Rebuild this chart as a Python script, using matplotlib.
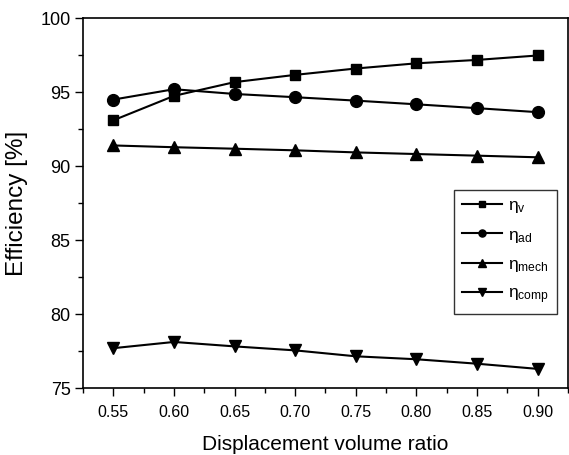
import numpy as np
import matplotlib.pyplot as plt
from matplotlib.ticker import MultipleLocator

plt.rcParams['font.family'] = ['Liberation Sans', 'DejaVu Sans']
plt.rcParams['mathtext.fontset'] = 'custom'
plt.rcParams['mathtext.rm'] = 'Liberation Sans'
plt.rcParams['mathtext.it'] = 'Liberation Sans'

ratio = [0.55, 0.60, 0.65, 0.70, 0.75, 0.80, 0.85, 0.90]
eta_v = [93.1, 94.75, 95.68, 96.17, 96.6, 96.95, 97.18, 97.48]
eta_ad = [94.5, 95.2, 94.88, 94.66, 94.43, 94.18, 93.92, 93.65]
eta_mech = [91.4, 91.28, 91.18, 91.07, 90.93, 90.82, 90.71, 90.6]
eta_comp = [77.7, 78.12, 77.82, 77.55, 77.15, 76.95, 76.65, 76.3]

fig = plt.figure(figsize=(5.69, 4.55), dpi=100)
ax = fig.add_axes([0.146, 0.147, 0.852, 0.813])

ms = 7.5
ax.plot(ratio, eta_v, 'k-s', ms=ms, lw=1.5, label='η$_{\\mathregular{v}}$')
ax.plot(ratio, eta_ad, 'k-o', ms=ms + 1, lw=1.5, label='η$_{\\mathregular{ad}}$')
ax.plot(ratio, eta_mech, 'k-^', ms=ms + 1, lw=1.5, label='η$_{\\mathregular{mech}}$')
ax.plot(ratio, eta_comp, 'k-v', ms=ms + 1, lw=1.5, label='η$_{\\mathregular{comp}}$')

ax.set_xlim(0.525, 0.925)
ax.set_ylim(75, 100)
ax.set_xticks(ratio)
ax.set_xticklabels(['%.2f' % r for r in ratio])
ax.xaxis.set_minor_locator(MultipleLocator(0.025))
ax.yaxis.set_major_locator(MultipleLocator(5))
ax.yaxis.set_minor_locator(MultipleLocator(2.5))
ax.tick_params(which='major', length=6, width=1, direction='out')
ax.tick_params(which='minor', length=3.5, width=1, direction='out')
ax.tick_params(axis='x', which='major', labelsize=11.5, pad=6)
ax.tick_params(axis='y', which='major', labelsize=13, pad=3)
for s in ax.spines.values():
    s.set_linewidth(1.2)

ax.set_xlabel('Displacement volume ratio', fontsize=15, labelpad=11)
ax.set_ylabel('Efficiency [%]', fontsize=17.5, labelpad=9)

leg = ax.legend(loc='center right', bbox_to_anchor=(0.977, 0.368), borderaxespad=0,
                fontsize=12.5, frameon=True, fancybox=False, edgecolor='black',
                handlelength=2.3, labelspacing=0.7, borderpad=0.45,
                handletextpad=0.35, markerscale=0.6)
leg.get_frame().set_linewidth(1.0)

plt.savefig('out.png', dpi=100)
